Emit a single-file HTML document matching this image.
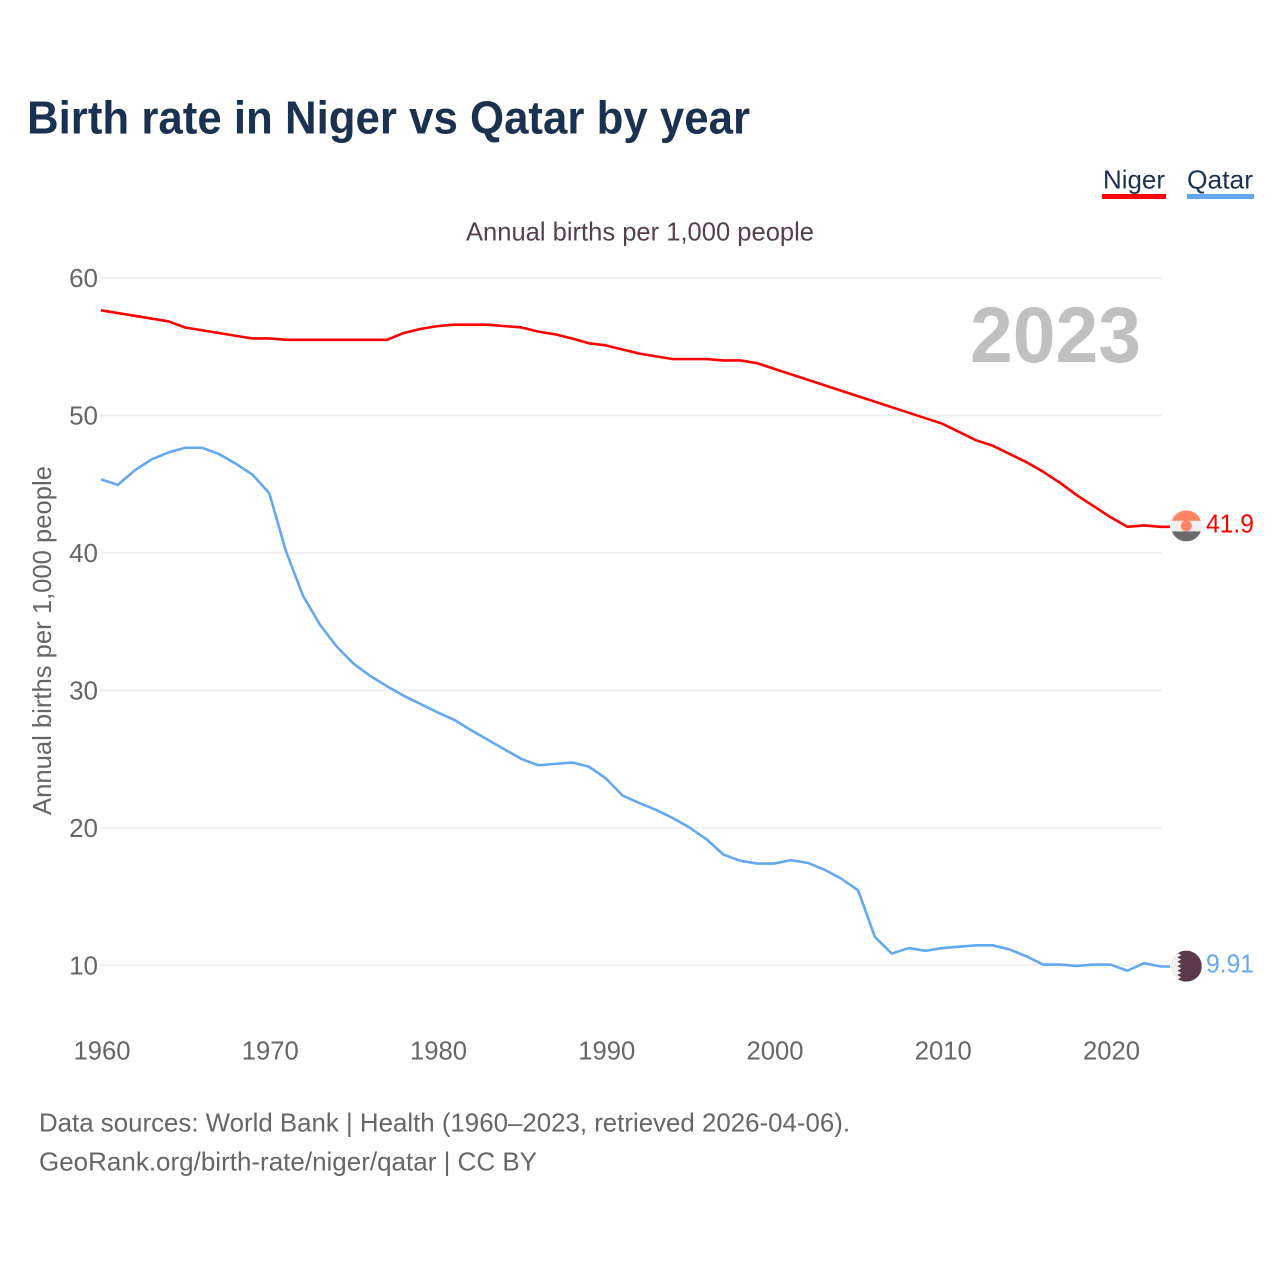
<!DOCTYPE html>
<html lang="en">
<head>
<meta charset="utf-8">
<title>Birth rate in Niger vs Qatar by year</title>
<style>
html,body{margin:0;padding:0;background:#fff;width:1280px;height:1280px;overflow:hidden}
svg{display:block}
text{font-family:"Liberation Sans",sans-serif}
</style>
</head>
<body>
<svg id="chart" xmlns="http://www.w3.org/2000/svg" width="1280" height="1280" viewBox="0 0 1280 1280">
  <rect x="0" y="0" width="1280" height="1280" fill="#ffffff"/>
  <text x="27" y="133.5" font-size="46.5" font-weight="700" fill="#1a3250" textLength="723" lengthAdjust="spacingAndGlyphs">Birth rate in Niger vs Qatar by year</text>
  <g>
    <g>
      <text x="1103" y="188.5" font-size="26" fill="#1a3250" textLength="62" lengthAdjust="spacingAndGlyphs">Niger</text>
      <rect x="1102" y="194" width="64" height="5" fill="#ff0000"/>
    </g>
    <g>
      <text x="1187" y="188.5" font-size="26" fill="#1a3250" textLength="66" lengthAdjust="spacingAndGlyphs">Qatar</text>
      <rect x="1187" y="194" width="67" height="5" fill="#64a8ef"/>
    </g>
  </g>
  <text x="466" y="240.5" font-size="26" fill="#54404e" textLength="348" lengthAdjust="spacingAndGlyphs">Annual births per 1,000 people</text>
  <g id="grid"></g>
  <g id="yticks"></g>
  <g id="xticks"></g>
  <text transform="translate(51,815) rotate(-90)" x="0" y="0" font-size="26" fill="#666666" textLength="349" lengthAdjust="spacingAndGlyphs">Annual births per 1,000 people</text>
  <text x="970" y="362" font-size="79" font-weight="700" fill="#c0c0c0" textLength="171" lengthAdjust="spacingAndGlyphs">2023</text>
  <g id="series"></g>
  <g id="ends"></g>
  <text x="39" y="1131.5" font-size="26" fill="#666666" textLength="811" lengthAdjust="spacingAndGlyphs">Data sources: World Bank | Health (1960–2023, retrieved 2026-04-06).</text>
  <text x="39" y="1170.5" font-size="26" fill="#666666" textLength="498" lengthAdjust="spacingAndGlyphs">GeoRank.org/birth-rate/niger/qatar | CC BY</text>
</svg>
<script>
const startYear = 1960;
const yTickValues = [10, 20, 30, 40, 50, 60];
const xTickValues = [1960, 1970, 1980, 1990, 2000, 2010, 2020];
const nigerValues = [57.65,57.45,57.25,57.05,56.85,56.4,56.2,56.0,55.8,55.6,55.6,55.5,55.5,55.5,55.5,55.5,55.5,55.5,56.0,56.3,56.5,56.6,56.6,56.6,56.5,56.4,56.1,55.9,55.6,55.25,55.1,54.8,54.5,54.3,54.1,54.1,54.1,54.0,54.0,53.8,53.4,53.0,52.6,52.2,51.8,51.4,51.0,50.6,50.2,49.8,49.4,48.8,48.2,47.8,47.2,46.6,45.9,45.1,44.2,43.4,42.6,41.9,42.0,41.9];
const qatarValues = [45.35,44.95,46.0,46.8,47.3,47.65,47.65,47.2,46.5,45.7,44.35,40.1,36.9,34.8,33.2,31.95,31.05,30.3,29.6,29.0,28.4,27.85,27.1,26.4,25.7,25.0,24.55,24.65,24.75,24.45,23.6,22.35,21.8,21.3,20.7,20.0,19.15,18.05,17.6,17.4,17.4,17.65,17.45,16.95,16.3,15.45,12.05,10.85,11.25,11.05,11.25,11.35,11.45,11.45,11.15,10.65,10.05,10.05,9.95,10.05,10.05,9.6,10.15,9.91];
const nigerEndLabel = "41.9";
const qatarEndLabel = "9.91";

const NS = "http://www.w3.org/2000/svg";
function xScale(year) { return 101 + (year - 1960) * 16.825; }
function yScale(v) { return 278 + (60 - v) * 13.745; }
function make(tag, attrs, parent) {
  const el = document.createElementNS(NS, tag);
  for (const k in attrs) el.setAttribute(k, attrs[k]);
  parent.appendChild(el);
  return el;
}
const grid = document.getElementById("grid");
const yticks = document.getElementById("yticks");
const xticks = document.getElementById("xticks");
const series = document.getElementById("series");
const ends = document.getElementById("ends");

yTickValues.forEach(function (v) {
  const line = make("line", {x1: 100, x2: 1162, y1: yScale(v), y2: yScale(v), stroke: "#eeeeee", "stroke-width": 1.6}, grid);
  
  
  const t = make("text", {x: 98, y: yScale(v) + 9, "text-anchor": "end", "font-size": 26, fill: "#666666"}, yticks);
  
  
  t.textContent = String(v);
});
xTickValues.forEach(function (yr) {
  const t = make("text", {x: xScale(yr) + 1, y: 1059.5, "text-anchor": "middle", "font-size": 26, fill: "#666666", textLength: 57, lengthAdjust: "spacingAndGlyphs"}, xticks);
  
  
  t.textContent = String(yr);
});
function linePoints(values) {
  const pts = values.map(function (v, i) { return xScale(startYear + i).toFixed(2) + "," + yScale(v).toFixed(2); });
  pts.push("1170," + yScale(values[values.length - 1]).toFixed(2));
  return pts.join(" ");
}
const nigerLine = make("polyline", {points: linePoints(nigerValues), fill: "none", stroke: "#ff0000", "stroke-width": 2.6, "stroke-linejoin": "round"}, series);


const qatarLine = make("polyline", {points: linePoints(qatarValues), fill: "none", stroke: "#64a8ef", "stroke-width": 2.6, "stroke-linejoin": "round"}, series);



const flagX = 1186.3, flagR = 15.5;
const nigerY = yScale(nigerValues[nigerValues.length - 1]) - 0.9;
const qatarY = yScale(qatarValues[qatarValues.length - 1]) - 0.3;

const defs = make("defs", {}, ends);
const c1 = make("clipPath", {id: "clip-niger"}, defs);
make("circle", {cx: flagX, cy: nigerY, r: flagR}, c1);
const c2 = make("clipPath", {id: "clip-qatar"}, defs);
make("circle", {cx: flagX, cy: qatarY, r: flagR}, c2);

const nigerFlag = make("g", {"clip-path": "url(#clip-niger)"}, ends);


make("rect", {x: flagX - flagR, y: nigerY - flagR, width: 2 * flagR, height: 10.5, fill: "#ff8566"}, nigerFlag);
make("rect", {x: flagX - flagR, y: nigerY - flagR + 10.5, width: 2 * flagR, height: 10.5, fill: "#f0f0f0"}, nigerFlag);
make("rect", {x: flagX - flagR, y: nigerY - flagR + 21, width: 2 * flagR, height: 10, fill: "#6a6a6a"}, nigerFlag);
make("circle", {cx: flagX, cy: nigerY, r: 5.5, fill: "#ff8566"}, nigerFlag);

const qatarFlag = make("g", {"clip-path": "url(#clip-qatar)"}, ends);


make("rect", {x: flagX - flagR, y: qatarY - flagR, width: 2 * flagR, height: 2 * flagR, fill: "#f0f0f0"}, qatarFlag);
const teeth = 7;
let zig = "M" + (flagX + flagR) + " " + (qatarY - flagR);
zig += " L" + (flagX - 5) + " " + (qatarY - flagR);
for (let i = 0; i < teeth; i++) {
  const step = 2 * flagR / teeth;
  zig += " L" + (flagX - 9) + " " + (qatarY - flagR + step * (i + 0.5));
  zig += " L" + (flagX - 5) + " " + (qatarY - flagR + step * (i + 1));
}
zig += " L" + (flagX + flagR) + " " + (qatarY + flagR) + " Z";
make("path", {d: zig, fill: "#5a3a4a"}, qatarFlag);

const nigerLabel = make("text", {x: 1206, y: nigerY + 6.5, "font-size": 26, fill: "#ff0000", textLength: 48, lengthAdjust: "spacingAndGlyphs"}, ends);


nigerLabel.textContent = nigerEndLabel;
const qatarLabel = make("text", {x: 1206, y: qatarY + 6.5, "font-size": 26, fill: "#64a8ef", textLength: 48, lengthAdjust: "spacingAndGlyphs"}, ends);


qatarLabel.textContent = qatarEndLabel;
</script>
</body>
</html>
